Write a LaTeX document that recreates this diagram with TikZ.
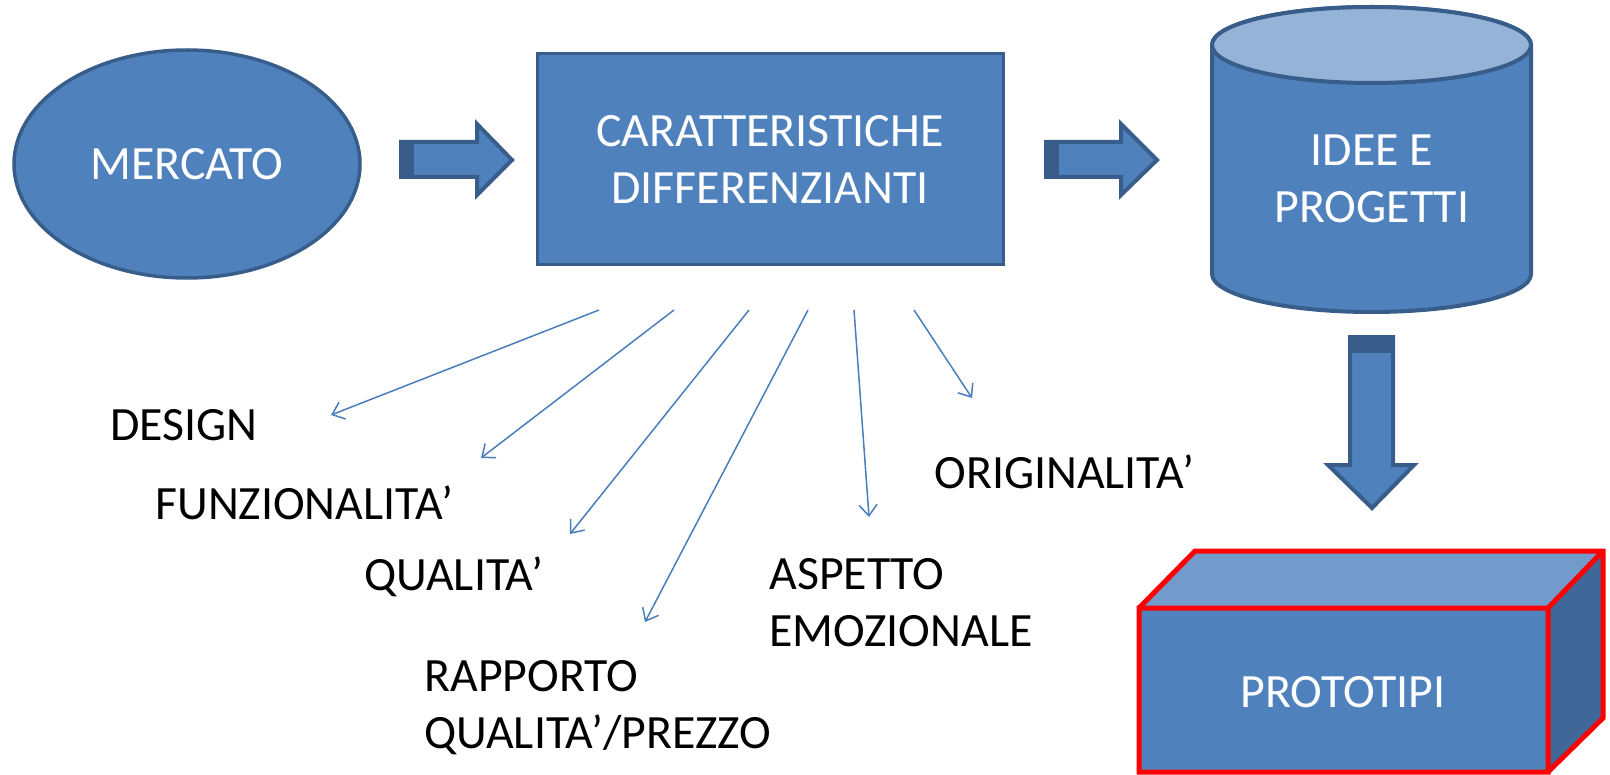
\documentclass[tikz,border=0pt]{standalone}
\usepackage{fontspec}
\setmainfont{Carlito}
\usetikzlibrary{arrows.meta,shapes.geometric}
\definecolor{fillblue}{HTML}{4F81BD}
\definecolor{edgeblue}{HTML}{385D8A}
\definecolor{topblue}{HTML}{95B3D7}
\definecolor{boxtop}{HTML}{729ACA}
\definecolor{boxside}{HTML}{3F6899}
\definecolor{linkblue}{HTML}{4A7EBB}
\definecolor{boxred}{HTML}{FF0000}
\begin{document}
\begin{tikzpicture}[x=0.5pt,y=-0.5pt,
  lbl/.style={font=\fontsize{23.9}{28.5}\selectfont, align=left, anchor=west, inner sep=0pt},
  wlbl/.style={font=\fontsize{23.9}{28.5}\selectfont, align=center, text=white, inner sep=0pt},
  thinarrow/.style={draw=linkblue, line width=0.75pt, -{Straight Barb[length=5.5pt,width=9pt]}},
  blk/.style={fill=fillblue, draw=edgeblue, line width=2pt, line join=miter},
  tailstrip/.style={fill=edgeblue, draw=none}]
\useasboundingbox (0,0) rectangle (1610,775);

% MERCATO
\node (merc) [ellipse, fill=fillblue, draw=edgeblue, line width=1.75pt,
  minimum width=173pt, minimum height=114pt, inner sep=0pt,
  wlbl] at (187,164) {MERCATO};

% CARATTERISTICHE
\node (car) [rectangle, fill=fillblue, draw=edgeblue, line width=1.5pt,
  minimum width=233pt, minimum height=105pt, wlbl] at (770,159)
  {CARATTERISTICHE\\DIFFERENZIANTI};

% block arrow 1
\draw[blk] (401,142) -- (477,142) -- (477,124) -- (512,160) -- (477,195) -- (477,177) -- (401,177) -- cycle;
\fill[tailstrip] (400,141) rectangle (414,178);
% block arrow 2
\draw[blk] (1046,142) -- (1121,142) -- (1121,124) -- (1157,160) -- (1121,195) -- (1121,177) -- (1046,177) -- cycle;
\fill[tailstrip] (1045,141) rectangle (1059,178);

% cylinder
\draw[fill=fillblue, draw=edgeblue, line width=2pt]
  (1212,45) -- (1212,274) arc[start angle=180, end angle=360, x radius=79.75pt, y radius=19pt]
  -- (1531,45) arc[start angle=0, end angle=180, x radius=79.75pt, y radius=19pt] -- cycle;
\draw[fill=topblue, draw=edgeblue, line width=2pt] (1371.5,45) ellipse [x radius=79.75pt, y radius=19pt];
\node (idee) [wlbl] at (1372,179) {IDEE E\\PROGETTI};

% down block arrow
\draw[blk] (1350,337) -- (1393,337) -- (1393,465) -- (1414,465) -- (1372,508) -- (1328,465) -- (1350,465) -- cycle;
\fill[tailstrip] (1349,336) rectangle (1394,353);

% prototipi box
\fill[fillblue] (1139,608) rectangle (1548,772);
\fill[boxtop] (1139,608) -- (1195,551) -- (1603,551) -- (1548,608) -- cycle;
\fill[boxside] (1548,608) -- (1603,551) -- (1603,718) -- (1548,772) -- cycle;
\draw[boxred, line width=2.5pt, line join=miter]
  (1139,608) rectangle (1548,772)
  (1139,608) -- (1195,551) -- (1603,551) -- (1603,718) -- (1548,772)
  (1548,608) -- (1603,551);
\node (proto) [wlbl] at (1343,692) {PROTOTIPI};

% labels
\node (design) [lbl] at (110,425) {DESIGN};
\node (funz) [lbl] at (155,503) {FUNZIONALITA’};
\node (qual) [lbl] at (364,577) {QUALITA’};
\node (rapp) [lbl] at (424,708) {RAPPORTO\\QUALITA’/PREZZO};
\node (asp) [lbl] at (769,603) {ASPETTO\\EMOZIONALE};
\node (orig) [lbl] at (934,472) {ORIGINALITA’};

% thin arrows
\coordinate (s1) at (599,310); \coordinate (t1) at (331,415);
\coordinate (s2) at (674,310); \coordinate (t2) at (481,458);
\coordinate (s3) at (749,310); \coordinate (t3) at (570,534);
\coordinate (s4) at (808,310); \coordinate (t4) at (645,622);
\coordinate (s5) at (854,310); \coordinate (t5) at (869,517);
\coordinate (s6) at (914,310); \coordinate (t6) at (972,398);
\draw[thinarrow] (s1) -- (t1);
\draw[thinarrow] (s2) -- (t2);
\draw[thinarrow] (s3) -- (t3);
\draw[thinarrow] (s4) -- (t4);
\draw[thinarrow] (s5) -- (t5);
\draw[thinarrow] (s6) -- (t6);
\end{tikzpicture}
\end{document}
